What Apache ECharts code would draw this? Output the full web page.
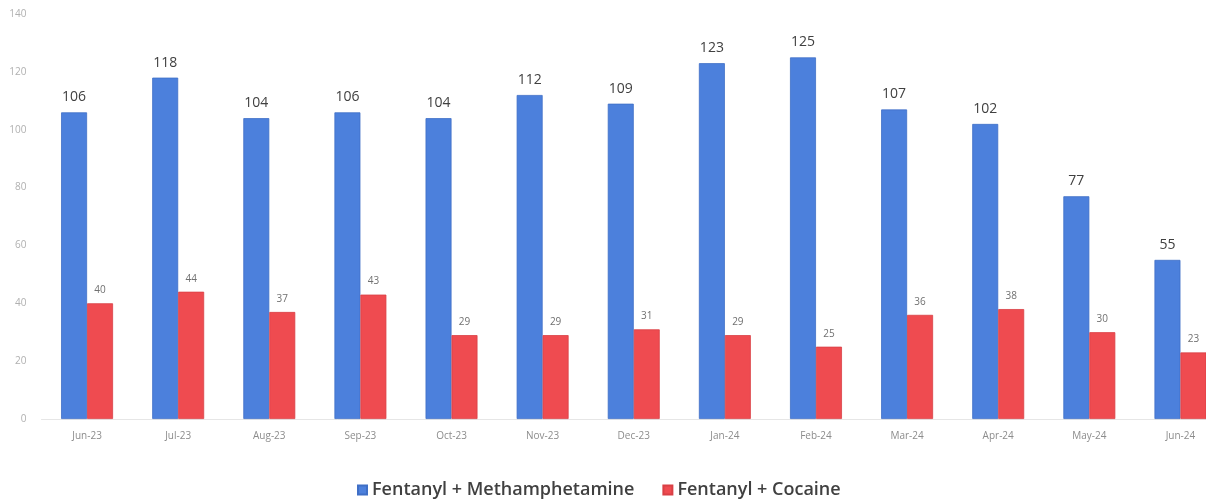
<!DOCTYPE html>
<html>
<head>
<meta charset="utf-8">
<script src="https://cdn.jsdelivr.net/npm/echarts@6/dist/echarts.min.js"></script>
<style>html,body{margin:0;padding:0;background:#fff;overflow:hidden;width:1206px;height:504px}#c{width:1226px;height:504px}</style>
</head>
<body>
<div id="c"></div>
<script>
const categories = ['Jun-23','Jul-23','Aug-23','Sep-23','Oct-23','Nov-23','Dec-23','Jan-24','Feb-24','Mar-24','Apr-24','May-24','Jun-24'];
const methValues = [106,118,104,106,104,112,109,123,125,107,102,77,55];
const cocaineValues = [40,44,37,43,29,29,31,29,25,36,38,30,23];
const seriesNames = ['Fentanyl + Methamphetamine','Fentanyl + Cocaine'];
const yTicks = {min:0,max:140,interval:20};

const chart = echarts.init(document.getElementById('c'));
const font = '"Open Sans", sans-serif';
chart.setOption({
  animation:false,
  backgroundColor:'#fff',
  grid:{left:41.5,top:14,right:0,bottom:85,containLabel:false},
  legend:{
    bottom:0,left:352,itemWidth:9,itemHeight:9,itemGap:28,icon:'rect',
    textStyle:{fontFamily:font,fontSize:18,fontWeight:600,color:'#404040'},
    data:seriesNames
  },
  xAxis:{
    type:'category',data:categories,
    axisLine:{show:true,lineStyle:{color:'#e6e6e6'}},
    axisTick:{show:false},
    axisLabel:{fontFamily:font,fontSize:10,color:'#8c8c8c',margin:12}
  },
  yAxis:{
    type:'value',min:yTicks.min,max:yTicks.max,interval:yTicks.interval,
    axisLine:{show:false},axisTick:{show:false},splitLine:{show:false},
    axisLabel:{fontFamily:font,fontSize:10,color:'#b0b0b0',margin:15}
  },
  series:[
    {name:seriesNames[0],type:'bar',data:methValues,barGap:'0%',barCategoryGap:'43%',
     itemStyle:{color:'#4c80dc',borderColor:'#3f6fc6',borderWidth:0.8},
     label:{show:true,position:'top',distance:8,fontFamily:font,fontSize:14,color:'#404040'}},
    {name:seriesNames[1],type:'bar',data:cocaineValues,barGap:'0%',barCategoryGap:'43%',
     itemStyle:{color:'#ef4b50',borderColor:'#d94045',borderWidth:0.8},
     label:{show:true,position:'top',distance:8,fontFamily:font,fontSize:10,color:'#707070'}}
  ]
});
</script>
</body>
</html>
